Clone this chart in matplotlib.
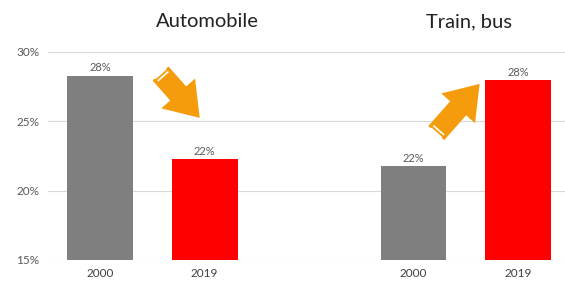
import matplotlib
matplotlib.use("Agg")
import matplotlib.pyplot as plt
from matplotlib.patches import FancyArrowPatch
import numpy as np

groups = ["Automobile", "Train, bus"]
years = ["2000", "2019"]
auto_values = [28.3, 22.3]
train_values = [21.8, 28.0]
auto_labels = ["28%", "22%"]
train_labels = ["22%", "28%"]
yticks = [15, 20, 25, 30]
ytick_labels = ["15%", "20%", "25%", "30%"]

plt.rcParams['font.family'] = ['Lato', 'DejaVu Sans']

fig = plt.figure(figsize=(5.65, 2.86), dpi=100)
ax = fig.add_axes([48/565, 1-260/286, 1-48/565, (260-52)/286])

positions = [0, 1, 3, 4]
values = auto_values + train_values
labels = auto_labels + train_labels
colors = ["#7f7f7f", "#ff0000", "#7f7f7f", "#ff0000"]
bars = ax.bar(positions, values, width=0.63, color=colors, bottom=0, zorder=2)

ax.set_ylim(15, 30)
ax.set_xlim(-0.5, 4.45)
ax.set_yticks(yticks)
ax.set_yticklabels(ytick_labels, color="#595959", fontsize=8.5)
ax.set_xticks(positions)
ax.set_xticklabels(years * 2, color="#404040", fontsize=8.5)
ax.tick_params(length=0, pad=6)
ax.grid(axis="y", color="#d9d9d9", lw=0.8, zorder=0)
for s in ax.spines.values():
    s.set_visible(False)

for p, v, l in zip(positions, values, labels):
    ax.text(p, v + 0.15, l, ha="center", va="bottom", fontsize=8, color="#595959")

ax.text(1.03, 32.2, groups[0], ha="center", va="center", fontsize=14.5, color="#222222", clip_on=False)
ax.text(3.53, 32.2, groups[1], ha="center", va="center", fontsize=14.5, color="#222222", clip_on=False)

orange = "#f59c0c"
def draw_arrow(x0, y0, x1, y1):
    arr = FancyArrowPatch((x0, y0), (x1, y1), arrowstyle="simple,head_width=1.8,head_length=1.3,tail_width=0.85",
                          mutation_scale=18, color=orange, zorder=3, lw=0)
    ax.add_patch(arr)
    # stripes near tail
    d0 = ax.transData.transform((x0, y0))
    d1 = ax.transData.transform((x1, y1))
    v = d1 - d0
    L = np.hypot(*v)
    u = v / L
    n = np.array([-u[1], u[0]])
    inv = ax.transData.inverted()
    for t in [3, 6.5]:
        c = d0 + u * t
        a = inv.transform(c + n * 7.2)
        b = inv.transform(c - n * 7.2)
        ax.plot([a[0], b[0]], [a[1], b[1]], color="white", lw=1.2, zorder=4, solid_capstyle="butt")

draw_arrow(0.56, 28.6, 0.97, 25.1)
draw_arrow(3.2, 24.0, 3.65, 27.85)

fig.savefig("out.png", dpi=100)
